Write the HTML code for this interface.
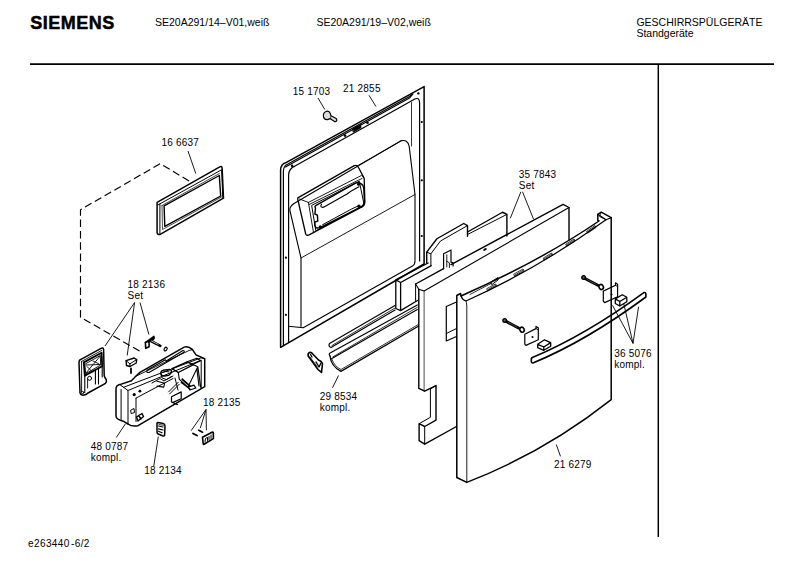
<!DOCTYPE html>
<html><head><meta charset="utf-8">
<style>
html,body{margin:0;padding:0;background:#fff;}
body{width:800px;height:566px;overflow:hidden;position:relative;}
svg{position:absolute;left:0;top:0;}
text{font-family:"Liberation Sans",sans-serif;fill:#000;}
.l{font-size:10px;letter-spacing:0.2px;}
.h{font-size:10.5px;}
</style></head><body>
<svg width="800" height="566" viewBox="0 0 800 566">
<g id="header">
<text x="30.3" y="29" style="font-size:18px;font-weight:bold;letter-spacing:0.5px;stroke:#000;stroke-width:0.5px">SIEMENS</text>
<text class="h" x="155" y="26">SE20A291/14–V01,weiß</text>
<text class="h" x="316.4" y="26">SE20A291/19–V02,weiß</text>
<text class="h" x="636.4" y="26">GESCHIRRSPÜLGERÄTE</text>
<text class="h" x="636.4" y="37">Standgeräte</text>
<line x1="30" y1="64.2" x2="774" y2="64.2" stroke="#000" stroke-width="1.8"/>
<line x1="658.3" y1="65" x2="658.3" y2="537" stroke="#000" stroke-width="1.5"/>
<text x="28" y="546.8" style="font-size:10px;letter-spacing:0.4px">e263440&#8202;-6/2</text>
</g>
<g id="labels" class="l">
<text class="l" x="292.8" y="95">15 1703</text>
<text class="l" x="343.1" y="92.4">21 2855</text>
<text class="l" x="161.4" y="146.4">16 6637</text>
<text class="l" x="127.6" y="287.7">18 2136</text>
<text class="l" x="127.6" y="299">Set</text>
<text class="l" x="518.8" y="178">35 7843</text>
<text class="l" x="518.8" y="189.2">Set</text>
<text class="l" x="614.3" y="356.7">36 5076</text>
<text class="l" x="614.3" y="368.3">kompl.</text>
<text class="l" x="319.8" y="399.7">29 8534</text>
<text class="l" x="319.8" y="411.2">kompl.</text>
<text class="l" x="90.75" y="449.5">48 0787</text>
<text class="l" x="90.75" y="460.5">kompl.</text>
<text class="l" x="144.25" y="474.3">18 2134</text>
<text class="l" x="203" y="405.5">18 2135</text>
<text class="l" x="553.9" y="468">21 6279</text>
</g>
<g id="leaders" stroke="#000" stroke-width="0.9" fill="none">
<path d="M318,98 L324.8,109.5"/>
<path d="M369,95.3 L376,106.6"/>
<path d="M188,151 L195.8,173.6"/>
<path d="M134.6,302.5 L105,346 M134.6,302.5 L127.2,355.5 M140,302.5 L148.9,334.5"/>
<path d="M520.9,191.8 L510.3,218.3 M522.5,191.8 L533.6,219.3"/>
<path d="M633,343.4 L612.5,305.3 M633,343.4 L623.8,303.9 M633,343.4 L638.6,306.7"/>
<path d="M338.5,375.5 L332.5,387.8"/>
<path d="M116.25,437.5 L125.5,423.75"/>
<path d="M153.75,466.25 L158.3,436.5"/>
<path d="M206,409.5 L191.1,430.7 M206,409.5 L200.3,428.1 M206,409.5 L206.4,430.3"/>
<path d="M556.3,444.6 L560.5,456.4"/>
</g>

<g id="door212855" stroke="#000" fill="none" stroke-linejoin="round" stroke-linecap="round">
<!-- outer -->
<path stroke-width="1.5" d="M424.1,86.6 L424.1,264 L280.6,347.3 L280.6,170 Q280.8,163.6 286.4,162.4 L424.1,86.6"/>
<!-- left flange line + band -->
<path stroke-width="1.2" d="M283.4,345.6 L283.4,171 Q283.6,165.8 287.5,164.3 L409.5,96.5 L412,94.5"/>
<path stroke-width="1.1" d="M285.5,167 L409.5,98.1 L413,94"/>
<!-- inner panel line -->
<path stroke-width="1.2" d="M288.6,342 L288.6,175 Q288.8,168.5 295,166.1 L414,99.4 Q419.6,96.5 419.6,103 L419.6,261"/>
<!-- tub edge line -->
<path stroke-width="0.8" d="M411.5,102.5 L411.5,146"/>
<!-- recessed panel -->
<path stroke-width="1.1" d="M288.6,326.3 L303.2,327.8 L412.4,266.1 Q415,264.5 415,261 L415,194.5 L409.2,146.4 Q407.5,139 401,140.8 L294,203.5 Q289,207 290,211 L301,258 L301,326.5"/>
<path stroke-width="0.9" d="M301,258 L415,194.5"/>
<path stroke-width="0.8" d="M357.5,165.8 L402,140.5"/>
<!-- dots -->
<g fill="#000" stroke="none">
<circle cx="292.1" cy="165.8" r="1.3"/>
<circle cx="345" cy="135.6" r="1.3"/>
<circle cx="367.5" cy="122.8" r="1.3"/>
<circle cx="418.4" cy="93.4" r="1.2"/>
<circle cx="421.8" cy="122" r="1.1"/>
<circle cx="421.8" cy="180.3" r="1.1"/>
<circle cx="421.8" cy="236" r="1.1"/>
<circle cx="285.9" cy="257.7" r="1.1"/>
<circle cx="285.9" cy="314.8" r="1.1"/>
</g>
<path stroke-width="0.9" fill="#000" d="M353,128.8 L360.5,124.6 L361,127.8 L353.5,132 Z"/>
<!-- window -->
<path stroke-width="1.3" d="M297.8,197.9 L354.3,165.6 Q356.5,164.6 358.5,167.5 L364.2,178.4 L364.9,202.4 Q364.5,206 361.4,207.3 L309.1,234.9 Q306,236 305.6,233.5 L297.8,199.5 Z"/>
<path stroke-width="0.9" d="M299.5,199 L308.4,202.4 L361.4,175.5 L363.5,177 M309.1,204.5 L362.1,178.4 M308.4,202.4 L313.4,232"/>
<path stroke-width="1" d="M312,205.2 L359.3,181.2 L364.2,205.2 L316.2,230.6 Z"/>
<path stroke-width="1.4" d="M315.5,207.8 Q314,206.5 316.5,205.2 L355,183.3 Q358,181.8 361,183.6 Q363.6,185 363.8,188.5 L364.4,200.5 Q364.6,205 360.6,207.2 L320,227.6 Q315.6,229 314.9,225.5 L314.9,222 L317.8,221.2 L317.4,215.2 L314.9,214 Z"/>
<path stroke-width="1.2" d="M321.5,204.2 Q319.5,207.8 323.6,207.2 L347,194 Q350,191.5 355.7,188.5 L359,186.8"/>
<path stroke-width="1" d="M322.6,224.7 L347,211.5 Q350,209.5 358.5,205.8"/>
<g fill="#000" stroke="none">
<circle cx="358.6" cy="184.2" r="1.6"/><circle cx="359" cy="206.3" r="1.7"/><circle cx="320.3" cy="226.8" r="1.5"/>
</g>
<!-- screw 15 1703 -->
<path stroke-width="1.2" fill="#ddd" d="M326.5,111.3 Q322.8,112.5 323.5,117 Q324.5,120 327.5,119.6 L330,118.6 L334.5,121.6 Q336.5,122 336.9,120.2 L336.2,118.5 L331,115.8 L330.3,113.5 Q329.3,110.8 326.5,111.3 Z"/>
<path stroke-width="0.7" d="M330,118.6 Q331.5,117 331,115.8"/>
</g>

<g id="left" stroke="#000" fill="none" stroke-linejoin="round" stroke-linecap="round">
<!-- dashed -->
<path stroke-width="1.15" stroke-linecap="butt" stroke-dasharray="7.5,3.8" d="M189,181 L160.3,163.6 L80.5,209.7 L80.5,317.3 L139.9,351.2"/>
<!-- gasket 16 6637 -->
<path stroke-width="1.5" d="M157.1,202.4 L220.2,166.6 Q221.8,166 222.1,167.8 L223.5,198.2 L160.6,234.2 Q157.3,235 157.1,233 Z"/>
<path stroke-width="1" d="M158.2,204.8 L221.6,169.8 L222.8,197.5 M159.9,204 L159.9,233.5"/>
<path stroke-width="1.4" d="M164.1,205.9 L219.3,175.5 L220.7,196 L164.8,226.4 Z"/>
<path stroke-width="0.7" d="M162,205.5 L219.5,173.5 M162,205.5 L162.5,229.5 L221.5,197"/>
</g>

<g id="lock" stroke="#000" fill="none" stroke-linejoin="round" stroke-linecap="round">
<!-- body outline -->
<path stroke-width="1.5" d="M116,389 Q116,385.5 119.8,384.6 L131.4,380.8 L136,376 L140,372.4 L182,348.3 Q187,344.5 192.5,349.6 L196,354.9 L204.7,358.8 L204.7,386.6 L138,425.7 Q132,427 128,424 L124,421.6 Q116,419.5 116,416 Z"/>
<path stroke-width="1" d="M121.1,389.5 L121.1,420 M119.8,384.6 L123.5,387.3 L128,390.5 L128,424"/>
<path stroke-width="1" d="M123.5,387.3 L201.2,357.8 L204.7,358.8 M128,390.5 L201.2,360.1 L201.2,388.5"/>
<path stroke-width="0.9" d="M136.5,376 L189,350.5 L192.5,349.6"/>
<!-- rail slot -->
<path stroke-width="1.1" d="M147,370.2 L165.4,359.7 L166.2,361 L182.9,350.5 Q185,350.5 184,352.3 L149,372.5 Q146,373 147,370.2 Z"/>
<!-- label face -->
<path stroke-width="1" d="M136,398.1 L173,378.5 M136,398.1 L136,421.5"/>
<path stroke-width="1" d="M152,383 L160,378.5 L164,381 L173,376"/>
<!-- mechanism -->
<path stroke-width="1.4" d="M160.8,373.8 Q160.5,371 163,370.3 L169.6,369.4 Q172,370 171.5,372.5 L168.6,375.4 L164.7,376 Q161.3,375.8 160.8,373.8 Z"/>
<path stroke-width="1" d="M163,372.2 Q166,370.8 169,371.8 M160.8,373.8 L162,378 L166.5,379.5 L171.5,376.5"/>
<path stroke-width="1.4" d="M172,368.6 L187.1,361.8 L193.4,364.7 L178.3,372.5 Z"/>
<path stroke-width="1.2" d="M187.1,361.8 L196.8,358.2 L200.7,360.8 L191.9,364.7"/>
<path stroke-width="1.8" d="M182.2,379.3 L190,386.1"/>
<path stroke-width="1.1" d="M179.3,379.3 L188,387.1 L197.8,366.7 M181.2,382.5 L190,389 M178.3,372.5 L179.3,379.3 M193.4,364.7 L197.8,366.7 L200.7,387.1 M196.8,368.5 L199,386"/>
<path stroke-width="1.3" d="M188,387.1 L193.9,385.1 L195.8,388 L190,390 Z"/>
<path stroke-width="1" d="M168.6,391.9 L178.3,382.2 M169.6,394 L179.3,384.2 M175,378 L178,390"/>
<path stroke-width="1.2" d="M171.5,396.8 L181.2,391.9 L181.2,398.7 L172.5,402.6 M171.5,396.8 L171.5,402 L177.4,404.6"/>
<path stroke-width="1.1" d="M157,381.2 L164.7,383.2 L163.7,387.1 L157,386.1"/>
<!-- dots and details on front -->
<g fill="#000" stroke="none">
<circle cx="134.2" cy="394.6" r="1.6"/>
<circle cx="139.9" cy="391.2" r="1.4"/>
</g>
<path stroke-width="1.4" d="M136.5,417 L142,413.5 L143.5,416.5 L138,421 Z M138.5,415.5 L141,419"/>
<path stroke-width="1" d="M131,410 L134,408.5 L134.5,412.5 L131.5,413.5 Z"/>
</g>
<g id="latch" stroke="#000" fill="none" stroke-linejoin="round" stroke-linecap="round">
<path stroke-width="1.5" d="M79,362 Q79,360 81,359.3 L101.5,348.2 Q103.4,347.4 103.6,349.5 L104.2,375.5 Q104.8,378 106.2,379.5 Q107,382 105.5,383.3 L88,393 Q86.5,395 83,395.2 Q80.6,395 80,393 Z"/>
<path stroke-width="0.9" d="M81.4,361.5 L101.6,350.5 M81.6,361.5 L81.6,392"/>
<path stroke-width="1.8" d="M83.8,362.4 L101.6,352.8 L102.2,366.3 L84.8,375.6 Z"/>
<path stroke-width="0.9" d="M85.2,364 L100.3,355.5 L100.7,365 L86,373.5 Z M86,365 L100.5,364.5 M86,373 L100.3,356"/>
<path stroke-width="0.9" d="M87,366.5 L92.5,372 M93,361 L99,364"/>
<path stroke-width="1.1" d="M84.8,375.6 L84.8,392.5 M95.4,370 L95.4,384 M98.5,368.2 L98.5,384 M102.2,366.3 L102.2,377"/>
<circle cx="89.6" cy="378.3" r="2" stroke-width="1"/>
<path stroke-width="0.9" d="M87.6,379 L87.6,388"/>
<circle cx="82.6" cy="392.6" r="1.2" stroke-width="1"/>
</g>
<g id="smallparts" stroke="#000" fill="none" stroke-linejoin="round" stroke-linecap="round">
<!-- 18 2136 small bits -->
<path stroke-width="1.4" d="M126.1,360.7 L134.1,358 L136.7,359.6 L136.3,363 L130,366.5 L126.5,365.5 Z"/>
<path stroke-width="1" d="M126.1,360.7 L129.9,363.8 L136.7,359.6 M129.9,363.8 L130,366.5"/>
<path stroke-width="1.8" d="M131,368.5 L131,373"/>
<path stroke-width="1.6" d="M145.4,342.5 L149.1,340.9 L149.1,346.8 L145.7,348.3 Z"/>
<path stroke-width="1.5" d="M145.4,342.5 L153.9,336.4 L154.2,338 L153.4,339.6 L149.1,340.9" fill="#000"/>
<path stroke-width="2.6" d="M151,341 L160.3,345.9"/>
<path stroke-width="0.7" stroke="#fff" d="M151.5,341 L158,344.3"/>
<ellipse cx="165.6" cy="349.1" rx="1.3" ry="2" transform="rotate(35 165.6 349.1)" stroke-width="1.2"/>
<!-- 18 2134 clip -->
<path stroke-width="1.5" d="M157.8,422.6 L163.3,423.5 Q165,424 165,426 L164.6,435.5 Q164,436.2 162.5,435.8 L158.2,434 Q157,433.5 157,432 L157,423.5 Q157,422.5 157.8,422.6 Z"/>
<path stroke-width="1.2" d="M158.5,426 L163,427 M158.5,428.8 L163,430 M158.5,431.2 L162,432.8"/>
<path stroke-width="0.8" d="M159,424.5 L163.5,425.3"/>
<!-- 18 2135 pins and clip -->
<path stroke-width="1.8" d="M193,433.5 L197,435.5 M198.8,430.3 L202.5,432.2"/>
<path stroke-width="1.6" d="M202.5,437.3 L212,432.2 Q213.2,431.8 213.3,433 L213.4,438.6 L204,444.3 Q203.2,444.6 203.2,443.5 Z"/>
<path stroke-width="1" d="M205,442 L205.5,438.5 L207.5,437.3 L207.5,440.5 M209,436.5 L209,439.5 M211,435 L211,438.5"/>
<!-- rails 29 8534 -->
<path stroke-width="1.2" d="M331,347.5 Q328,346.5 329.5,343.5 L395,305.5 M331,347.5 L395,310"/>
<path stroke-width="0.8" d="M332,345.5 L395,308"/>
<path stroke-width="1.2" d="M330,356 Q328,353.5 331,352.5 L417.3,305 M331,359 L417.3,309.5"/>
<path stroke-width="0.8" d="M333,356.8 L417.3,307.3"/>
<path stroke-width="1.3" d="M330,356 Q331,366 340.9,371.4 L418.3,326.2"/>
<path stroke-width="0.8" d="M332,359.5 Q334.5,366.5 341,369.5 L418.3,324.5"/>
<!-- clip near rails -->
<path stroke-width="1.6" d="M309.5,352.5 Q307.5,353.5 308.2,356 L318,369.5 L321.5,372.4 L322,368 L322.5,363.5 Q321.5,361 318.5,360 L311.8,353 Q310.5,352 309.5,352.5 Z"/>
<path stroke-width="1.4" d="M310.5,354.5 L312,357 M316,362 L319,367 L321,363"/>
<path stroke-width="0.8" d="M310,357 L317,366.5"/>
</g>

<g id="insul" stroke="#000" fill="none" stroke-linejoin="round" stroke-linecap="round">
<!-- back profile -->
<path stroke-width="1.4" d="M426.7,263 L426.7,252.2 L436.9,238.75 L463.75,223.5 L467.5,225.6 L467.5,236.25"/>
<path stroke-width="1" d="M426.7,252.2 L430.9,253.8 L440.5,241 L467.5,225.6 M430.9,253.8 L430.9,265"/>
<path stroke-width="1.4" d="M467.5,232 L502.5,212.25 L506.9,214.4 L506.9,236"/>
<path stroke-width="1" d="M467.5,234.5 L506.9,214.4"/>
<!-- bottom block of profile -->
<path stroke-width="1.3" d="M395.8,279.9 L395.8,308.5 L400.6,310.6 L417.5,300.5 M395.8,279.9 L428.1,263 M400.6,282.5 L431.3,265.6 M395.8,279.9 L400.6,282.5 L400.6,310.6"/>
<path stroke-width="1" d="M415.6,284 L415.6,301.5"/>
<!-- small notch/tab on board top -->
<path stroke-width="1.2" d="M443.6,268.6 L443.6,253.8 L451,250 L451,262.2 L453.1,262.8 L453.1,266"/>
<path stroke-width="0.9" d="M446.8,267 L446.8,254.8 M446.8,261.2 L449.4,262.8 L449.4,267.5"/>
<!-- front board -->
<path stroke-width="1.4" d="M418.8,289.3 L418.8,388.4 L424.7,391.2 L436,385.5 L436,420.2 L424.7,426.5 L419.1,423.7 L419.1,440.7 L424.7,444.2 L456.5,426.5"/>
<path stroke-width="1.4" d="M415.6,284 L443.6,268.6 M451,264.6 L563.1,204.4 L569,207.5 L569,240"/>
<path stroke-width="1.1" d="M415.6,284 L418.8,289.3 L424.1,291.1 L569,207.5"/>
<path stroke-width="0.7" d="M424.1,291.1 L424.1,391"/>
<path stroke-width="1" d="M430.4,389 L430.4,417.3 L419.1,423.7 M430.4,389 L436,385.5 M424.7,426.5 L424.7,444.2"/>
<g fill="#000" stroke="none"><ellipse cx="485" cy="249.4" rx="2" ry="1" transform="rotate(-30 485 249.4)"/></g>
<!-- cutout window on board -->
<path stroke-width="1.2" d="M456.5,302 L446.3,306.5 L446.3,341 L456.5,336.5"/>
<path stroke-width="1" d="M446.3,333.5 L456.5,328.5"/>
</g>
<g id="outerdoor" stroke="#000" fill="none" stroke-linejoin="round" stroke-linecap="round">
<path stroke-width="1.5" d="M456.8,295.5 L456.8,477.5 L466.8,482.4 Q545,452 611.2,399.6 L611.2,217.7 L601.2,212.2 L597.8,214.3 L597.8,220.4 L599,221 Q539.6,261.4 461,296 L460.5,293.5 Z"/>
<path stroke-width="0.9" d="M466.8,482.4 L466.8,306 Q466.5,301.5 466,301"/>
<path stroke-width="1.2" d="M461,296 Q462,299.5 466,301 Q538.5,268.4 606,219.8 L611.2,217.7 M597.8,214.3 L606,219.8"/>
<path stroke-width="0.8" d="M601.2,212.2 L599.5,216.5 L606,219.8"/>
<path stroke-width="0.8" d="M470,294.5 L491,283.5"/>
<!-- raised tab -->
<path stroke-width="1" d="M491,282 L498,277.5 L498,280 L492,284.5 Z"/>
<!-- slots along top edge -->
<g stroke-width="0.75">
<path d="M487,288.5 L495.5,284 L496.5,286 L488,290.5 Z M488,289.5 L496,285"/>
<path d="M514,274 L523,269 L524,271 L515,276 Z M515,275 L523.5,270"/>
<path d="M543.5,258 L551.5,253 L552.5,255 L544.5,260 Z M544,259 L552,254"/>
<path d="M566,244 L574,239 L575,241 L567,246 Z M566.5,245 L574.5,240"/>
<path d="M587,231 L595,225.5 L596,227.5 L588,233 Z M587.5,232 L595.5,226.5"/>
</g>
</g>
<g id="handle" stroke="#000" fill="none" stroke-linejoin="round" stroke-linecap="round">
<path stroke-width="1.6" d="M532.4,357.5 Q585.7,335 643.5,292.8 Q645.6,291.8 645.9,294.2 L645.9,297 Q587,340.5 533.5,362.8 Q531.3,363.5 531.3,361 L531.3,359 Q531.5,358 532.4,357.5 Z"/>
<!-- right screw -->
<path stroke-width="3" d="M585,278.5 L597.8,285.3"/>
<path stroke-width="0.5" stroke="#888" d="M587,279.4 L596,284.4"/>
<circle cx="583.6" cy="277.5" r="1.8" stroke-width="1.4" fill="#666"/>
<ellipse cx="601.2" cy="287" rx="2.1" ry="2.6" transform="rotate(-30 601.2 287)" stroke-width="1.6"/>
<!-- right bracket -->
<path stroke-width="1.2" d="M603.3,291.1 L615.5,285.3 L615.5,282.8 L617.6,284.3 L617.6,296.8 L604.7,302.6 L603.3,301.3 Z"/>
<path stroke-width="0.9" d="M615.5,285.3 L617.6,286.5"/>
<circle cx="611.5" cy="294.4" r="1" fill="#000" stroke="none"/>
<!-- right cap -->
<path stroke-width="1.3" d="M615.3,298.9 L622.3,294.7 L626.8,297.3 L626.8,301.8 L619.8,306 L615.3,303.5 Z M615.3,298.9 L619.8,301.5 L626.8,297.3 M619.8,301.5 L619.8,306"/>
<!-- left screw -->
<path stroke-width="3" d="M506,321.3 L518.5,328"/>
<path stroke-width="0.5" stroke="#888" d="M508,322.2 L517,327.1"/>
<circle cx="504.7" cy="320.4" r="1.8" stroke-width="1.4" fill="#666"/>
<ellipse cx="522" cy="329.7" rx="2.1" ry="2.6" transform="rotate(-30 522 329.7)" stroke-width="1.6"/>
<!-- left bracket -->
<path stroke-width="1.2" d="M524.8,334.2 L536,328.6 L536,326.4 L538.3,327.8 L538.3,339.8 L525.9,345.4 L524.8,344.2 Z"/>
<path stroke-width="0.9" d="M536,328.6 L538.3,329.8"/>
<circle cx="532.5" cy="337" r="1" fill="#000" stroke="none"/>
<!-- left cap -->
<path stroke-width="1.3" d="M537.7,344.3 L544.5,339.8 L550.7,342.6 L550.7,346.2 L543.8,350.3 L537.7,347.6 Z M537.7,344.3 L543.8,347 L550.7,342.6 M543.8,347 L543.8,350.3"/>
</g>
</svg>
</body></html>
